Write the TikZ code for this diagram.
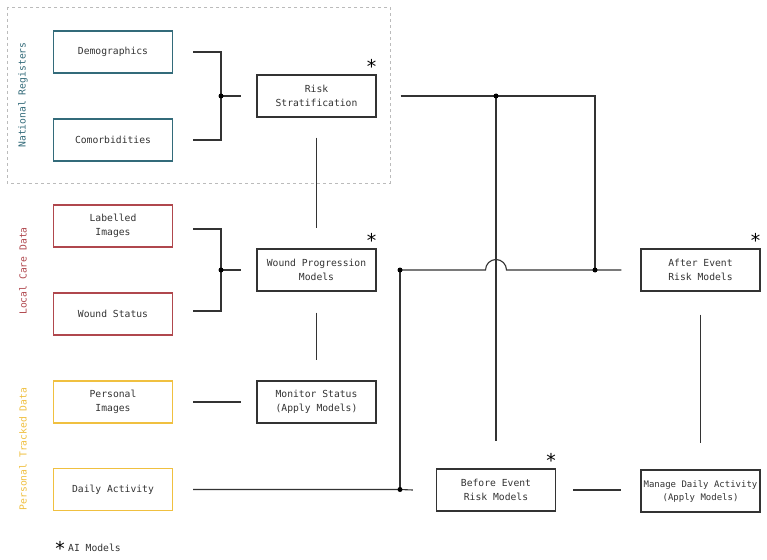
\documentclass[tikz,border=0pt]{standalone}
\usepackage{fontspec}
\setmainfont{DejaVu Sans Mono}
\definecolor{teal1}{HTML}{336B7A}
\definecolor{red1}{HTML}{B0474D}
\definecolor{yel1}{HTML}{F0C040}
\definecolor{ink}{HTML}{333333}
\definecolor{dashg}{HTML}{BBBBBB}
\begin{document}
\begin{tikzpicture}[x=1pt,y=-1pt,
  box/.style={draw=ink,line width=1.1pt,minimum width=119pt,minimum height=42pt,inner sep=1pt,align=center,text=ink,font=\fontsize{9.7}{14}\selectfont},
  tealbox/.style={box,draw=teal1},
  redbox/.style={box,draw=red1},
  yelbox/.style={box,draw=yel1},
  conn/.style={draw=ink,line width=1.1pt},
  dot/.style={circle,fill=black,inner sep=0pt,minimum size=5pt},
  star/.style={inner sep=0pt,font=\fontsize{19}{19}\selectfont,text=black},
  side/.style={rotate=90,font=\fontsize{9.7}{12}\selectfont}]
\useasboundingbox[fill=white] (0,0) rectangle (767,559);

\draw[dashg,dashed,line width=0.8pt] (7,7) rectangle (390,183);

% left column
\node[tealbox] (demo) at (113,52) {Demographics};
\node[tealbox] (comor) at (113,140) {Comorbidities};
\node[redbox] (label) at (113,226) {Labelled\\Images};
\node[redbox] (wstat) at (113,314) {Wound Status};
\node[yelbox] (pimg) at (113,402) {Personal\\Images};
\node[yelbox] (daily) at (113,489.5) {Daily Activity};

% middle column
\node[box] (risk) at (316.5,96) {Risk\\Stratification};
\node[box] (wprog) at (316.5,270) {Wound Progression\\Models};
\node[box] (monitor) at (316.5,402) {Monitor Status\\(Apply Models)};

% right
\node[box] (after) at (700.5,270) {After Event\\Risk Models};
\node[box] (before) at (496,490) {Before Event\\Risk Models};
\node[box,font=\fontsize{9}{13}\selectfont] (manage) at (700.5,491) {Manage Daily Activity\\(Apply Models)};

% side labels
\node[side,text=teal1] (lnat) at (23,95) {National Registers};
\node[side,text=red1] (lloc) at (23,271) {Local Care Data};
\node[side,text=yel1] (lper) at (23,449) {Personal Tracked Data};

% asterisks
\node[star] (s1) at ([xshift=-5pt,yshift=8pt]risk.north east) {*};
\node[star] (s2) at ([xshift=-5pt,yshift=8pt]wprog.north east) {*};
\node[star] (s3) at ([xshift=-5pt,yshift=8pt]after.north east) {*};
\node[star] (s4) at ([xshift=-5pt,yshift=8pt]before.north east) {*};
\node[star] (s5) at (60,548) {*};
\node[anchor=west,inner sep=0pt,font=\fontsize{9.7}{12}\selectfont,text=ink] (legend) at (68,548) {AI Models};

% junction coordinates
\coordinate (j1) at (221,96);
\coordinate (j6) at (221,270);
\coordinate (j2) at (496,96);
\coordinate (j3) at (595,270);
\coordinate (j4) at (400,270);
\coordinate (j5) at (400,489.5);

% brackets
\draw[conn] ([xshift=20pt]demo.east) -| (j1) |- ([xshift=20pt]comor.east);
\draw[conn] (j1) -- ([xshift=-15pt]risk.west);
\draw[conn] ([xshift=20pt,yshift=-3pt]label.east) -| (j6) |- ([xshift=20pt,yshift=3pt]wstat.east);
\draw[conn] (j6) -- ([xshift=-15pt]wprog.west);

% vertical links in middle column
\draw[conn] ([yshift=-20pt]risk.south) -- ([yshift=20pt]wprog.north);
\draw[conn] ([yshift=-21pt]wprog.south) -- ([yshift=20pt]monitor.north);
\draw[conn] ([xshift=20pt]pimg.east) -- ([xshift=-15pt]monitor.west);

% risk stratification out
\draw[conn] ([xshift=24pt]risk.east) -- (j2) -| (j3);
\draw[conn] (j2) -- ([yshift=27pt]before.north);

% wound progression bus with jump
\draw[conn] (j4) -- (485.5,270) arc[start angle=180,end angle=360,radius=10.5] -- (j3) -- ([xshift=-19pt]after.west);
\draw[conn] (j4) -- (j5);

% daily activity
\draw[conn] ([xshift=20pt]daily.east) -- (j5) -- ([xshift=-23pt]before.west);
\draw[conn] ([xshift=17pt]before.east) -- ([xshift=-19pt]before.east -| manage.west);
\draw[conn] ([yshift=-23pt]after.south) -- ([yshift=26pt]manage.north);

% dots
\foreach \p in {j1,j6,j2,j3,j4,j5} \node[dot] at (\p) {};
\end{tikzpicture}
\end{document}
